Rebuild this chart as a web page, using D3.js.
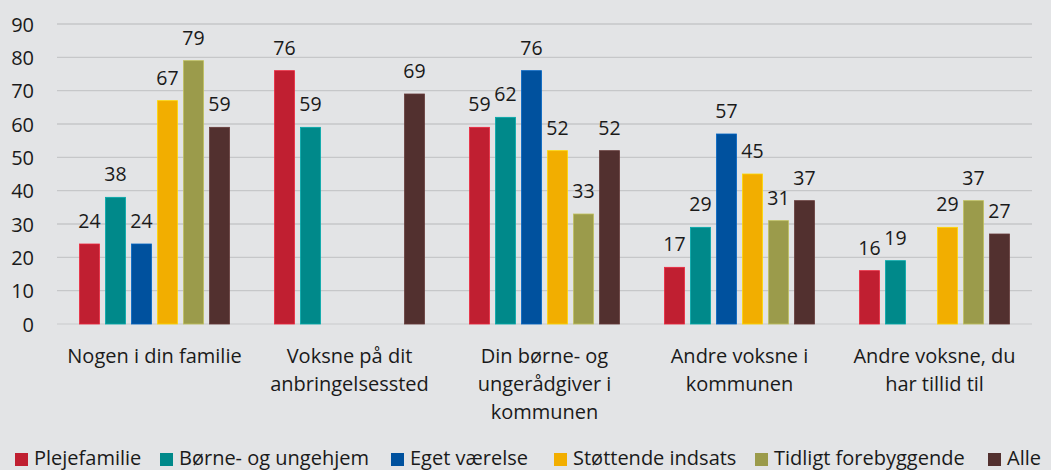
<!DOCTYPE html>
<html><head><meta charset="utf-8">
<script src="https://cdn.jsdelivr.net/npm/d3@7"></script>
<style>
html,body{margin:0;padding:0;background:#E3E4E6;}
svg{display:block;}
text{font-family:"Open Sans",sans-serif;fill:#1a1a1a;}
</style></head>
<body>
<svg id="c" width="1051" height="470"></svg>
<script>
const categories = [
  ["Nogen i din familie"],
  ["Voksne på dit","anbringelsessted"],
  ["Din børne- og","ungerådgiver i","kommunen"],
  ["Andre voksne i","kommunen"],
  ["Andre voksne, du","har tillid til"]
];
const seriesNames = ["Plejefamilie","Børne- og ungehjem","Eget værelse","Støttende indsats","Tidligt forebyggende","Alle"];
const seriesColors = ["#C01F31","#00898A","#00519E","#F2AE00","#9B9B4B","#52302F"];
const plejefamilie = [24,76,59,17,16];
const boerneUngehjem = [38,59,62,29,19];
const egetVaerelse = [24,null,76,57,null];
const stoettendeIndsats = [67,null,52,45,29];
const tidligtForebyggende = [79,null,33,31,37];
const alle = [59,69,52,37,27];
const yTicks = [0,10,20,30,40,50,60,70,80,90];

const seriesValues = [plejefamilie,boerneUngehjem,egetVaerelse,stoettendeIndsats,tidligtForebyggende,alle];

const svg = d3.select("#c");
const x0 = d3.scaleBand().domain(d3.range(categories.length)).range([57,1032]).padding(0);
const x1 = d3.scaleBand().domain(d3.range(seriesNames.length)).range([0,x0.bandwidth()])
  .paddingInner(6/26).paddingOuter(0.865);
const y = d3.scaleLinear().domain([0,90]).range([324,24]);

// gridlines
svg.append("g").selectAll("line").data(yTicks).join("line")
  .attr("x1",57).attr("x2",1032)
  .attr("y1",d=>y(d)).attr("y2",d=>y(d))
  .attr("stroke",d=>d===0?"#D2D3D5":"#C6C7C9").attr("stroke-width",1.3);

// y axis labels
const yAxis = d3.axisLeft(y).tickValues(yTicks).tickSize(0).tickPadding(0);
const ya = svg.append("g").attr("transform","translate(34,0)").call(yAxis);
ya.select(".domain").remove();
ya.attr("font-size",null).attr("font-family",null);
ya.selectAll("text").style("font-size","20px").style("font-family","'Open Sans',sans-serif").attr("fill","#1a1a1a").attr("dy","0.35em");

// bars
const groups = svg.append("g").selectAll("g").data(categories).join("g")
  .attr("transform",(d,i)=>`translate(${x0(i)},0)`);
groups.each(function(c,ci){
  const g = d3.select(this);
  const vals = seriesValues.map((s,si)=>({si,v:s[ci]})).filter(d=>d.v!=null);
  g.selectAll("rect").data(vals).join("rect")
    .attr("x",d=>x1(d.si)).attr("width",x1.bandwidth())
    .attr("y",d=>y(d.v)).attr("height",d=>y(0)-y(d.v))
    .attr("fill",d=>seriesColors[d.si])
    .attr("stroke",d=>d3.color(seriesColors[d.si]).brighter(0.6)).attr("stroke-width",0.8);
  g.selectAll("text.lbl").data(vals).join("text").attr("class","lbl")
    .attr("x",d=>x1(d.si)+x1.bandwidth()/2).attr("y",d=>y(d.v)-16)
    .attr("text-anchor","middle").style("font-size","19.5px").text(d=>d.v);
  // category label
  const t = g.append("text").attr("text-anchor","middle").style("font-size","20px");
  c.forEach((line,li)=>{
    t.append("tspan").attr("x",x0.bandwidth()/2).attr("y",363+li*28).text(line);
  });
});

// legend
const legX = [15,160,391,554,755,988];
const leg = svg.append("g").selectAll("g").data(seriesNames).join("g")
  .attr("transform",(d,i)=>`translate(${legX[i]},0)`);
leg.append("rect").attr("x",0).attr("y",453).attr("width",13).attr("height",13).attr("fill",(d,i)=>seriesColors[i]);
leg.append("text").attr("x",19).attr("y",465).style("font-size","20px").text(d=>d);
</script>
</body></html>
